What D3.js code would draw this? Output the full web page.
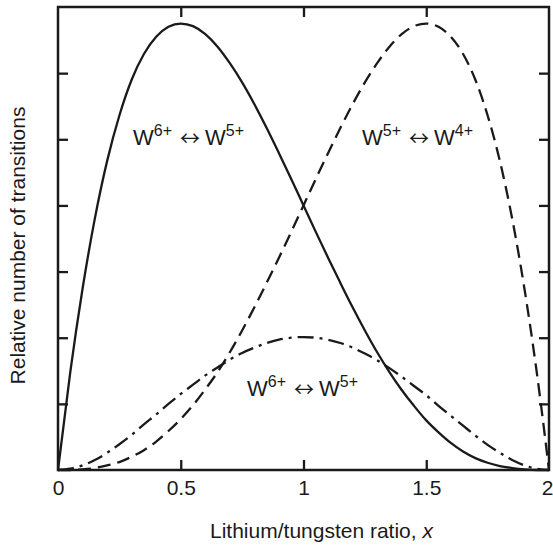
<!DOCTYPE html>
<html>
<head>
<meta charset="utf-8">
<script src="https://cdn.jsdelivr.net/npm/d3@7"></script>
<style>
  html, body { margin: 0; padding: 0; background: #fff; }
  svg { display: block; }
  text { font-family: "Liberation Sans", Arial, Helvetica, sans-serif; fill: #1a1a1a; }
</style>
</head>
<body>
<svg id="chart" width="553" height="545"></svg>
<script>
// Lithium/tungsten ratio x (sample positions)
const ratio = [0, 0.05, 0.1, 0.15, 0.2, 0.25, 0.3, 0.35, 0.4, 0.45, 0.5,
  0.55, 0.6, 0.65, 0.7, 0.75, 0.8, 0.85, 0.9, 0.95, 1.0,
  1.05, 1.1, 1.15, 1.2, 1.25, 1.3, 1.35, 1.4, 1.45, 1.5,
  1.55, 1.6, 1.65, 1.7, 1.75, 1.8, 1.85, 1.9, 1.95, 2.0];

// W6+ <-> W5+ transitions (solid)
const w65 = [0, 1.48, 2.74, 3.80, 4.67, 5.36, 5.90, 6.29, 6.55, 6.70, 6.75,
  6.71, 6.59, 6.40, 6.15, 5.86, 5.53, 5.17, 4.79, 4.40, 4.00,
  3.60, 3.21, 2.83, 2.46, 2.11, 1.78, 1.48, 1.21, 0.97, 0.75,
  0.57, 0.41, 0.28, 0.18, 0.11, 0.06, 0.03, 0.01, 0.00, 0];

// W5+ <-> W4+ transitions (dashed)
const w54 = [0, 0.00, 0.01, 0.03, 0.07, 0.12, 0.20, 0.30, 0.43, 0.59, 0.77,
  0.98, 1.22, 1.48, 1.78, 2.11, 2.46, 2.83, 3.21, 3.60, 4.00,
  4.40, 4.79, 5.17, 5.53, 5.86, 6.15, 6.40, 6.59, 6.71, 6.75,
  6.70, 6.55, 6.29, 5.90, 5.36, 4.67, 3.80, 2.74, 1.48, 0];

// second W6+ <-> W5+ curve (dash-dot)
const w65b = [0, 0.02, 0.07, 0.15, 0.26, 0.39, 0.53, 0.69, 0.84, 1.00, 1.15,
  1.29, 1.43, 1.55, 1.67, 1.77, 1.85, 1.92, 1.97, 2.00, 2.01,
  2.00, 1.97, 1.92, 1.85, 1.76, 1.66, 1.54, 1.41, 1.27, 1.13,
  0.97, 0.82, 0.67, 0.52, 0.38, 0.26, 0.15, 0.07, 0.02, 0];

const xTicks = [0, 0.5, 1, 1.5, 2];
const yTicks = [1, 2, 3, 4, 5, 6];

const margin = { left: 58, right: 4, top: 7, bottom: 75 };
const W = 553, H = 545;
const svg = d3.select("#chart");

const x = d3.scaleLinear().domain([0, 2]).range([margin.left, W - margin.right]);
const y = d3.scaleLinear().domain([0, 7]).range([H - margin.bottom, margin.top]);

const ink = "#1a1a1a";

// curves
const line = d3.line()
  .x((d, i) => x(ratio[i]))
  .y(d => y(d))
  .curve(d3.curveMonotoneX);

const curves = svg.append("g").attr("fill", "none").attr("stroke", ink)
  .attr("stroke-width", 2.3).attr("stroke-linecap", "butt");

curves.append("path").attr("d", line(w65));
curves.append("path").attr("d", line(w54)).attr("stroke-dasharray", "13,7");
curves.append("path").attr("d", line(w65b)).attr("stroke-dasharray", "16,6,3,6");

// axes with inward ticks on all four sides
const styleAxis = g => {
  g.select(".domain").remove();
  g.selectAll(".tick line").attr("stroke", ink).attr("stroke-width", 2.3);
  g.selectAll(".tick text").attr("fill", ink).style("font-size", "21px")
    .style("font-family", "'Liberation Sans', Arial, sans-serif");
};

svg.append("g")
  .attr("transform", `translate(0,${y(0)})`)
  .call(d3.axisBottom(x).tickValues(xTicks).tickSizeInner(-10).tickSizeOuter(0)
    .tickPadding(10).tickFormat(d3.format("~g")))
  .call(styleAxis)
  .call(g => g.selectAll(".tick").filter(d => d === 0 || d === 2).select("line").remove())
  .call(g => g.selectAll(".tick").filter(d => d === 2).select("text").attr("dx", -2));

svg.append("g")
  .attr("transform", `translate(0,${y(7)})`)
  .call(d3.axisTop(x).tickValues([0.5, 1, 1.5]).tickSizeInner(-10).tickSizeOuter(0).tickFormat(""))
  .call(styleAxis);

svg.append("g")
  .attr("transform", `translate(${x(0)},0)`)
  .call(d3.axisLeft(y).tickValues(yTicks).tickSizeInner(-10).tickSizeOuter(0).tickFormat(""))
  .call(styleAxis);

svg.append("g")
  .attr("transform", `translate(${x(2)},0)`)
  .call(d3.axisRight(y).tickValues(yTicks).tickSizeInner(-10).tickSizeOuter(0).tickFormat(""))
  .call(styleAxis);

// plot frame
svg.append("rect")
  .attr("x", x(0)).attr("y", y(7))
  .attr("width", x(2) - x(0)).attr("height", y(0) - y(7))
  .attr("fill", "none").attr("stroke", ink).attr("stroke-width", 2.5);

// axis titles
svg.append("text")
  .attr("x", 321.5).attr("y", 538)
  .attr("text-anchor", "middle").style("font-size", "21px")
  .call(t => {
    t.append("tspan").text("Lithium/tungsten ratio, ");
    t.append("tspan").style("font-style", "italic").text("x");
  });

svg.append("text")
  .attr("transform", "translate(25,245.5) rotate(-90)")
  .attr("text-anchor", "middle").style("font-size", "21px")
  .text("Relative number of transitions");

// transition labels
const labels = [
  { a: "6+", b: "5+", lx: 133, ly: 145 },
  { a: "5+", b: "4+", lx: 362, ly: 145 },
  { a: "6+", b: "5+", lx: 247, ly: 396 }
];

labels.forEach(l => {
  const t = svg.append("text").attr("x", l.lx).attr("y", l.ly).style("font-size", "22px");
  t.append("tspan").text("W");
  t.append("tspan").attr("dy", -9).style("font-size", "16px").text(l.a);
  t.append("tspan").attr("dy", 10).attr("dx", 8).style("font-size", "20px")
    .style("font-family", "'Noto Sans CJK JP', 'DejaVu Sans', sans-serif").text("\u2194");
  t.append("tspan").attr("dy", -1).attr("dx", 5).text("W");
  t.append("tspan").attr("dy", -9).style("font-size", "16px").text(l.b);
});
</script>
</body>
</html>
